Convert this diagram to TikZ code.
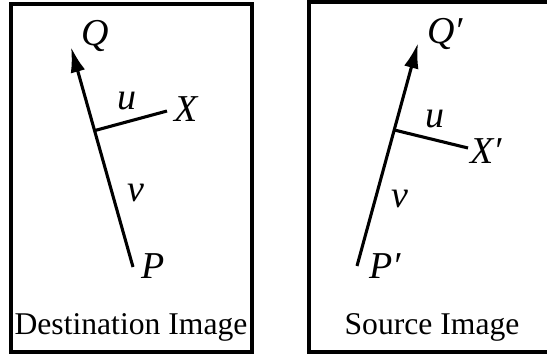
\documentclass[tikz,border=0pt]{standalone}
\usepackage{fontspec}
\setmainfont{Liberation Serif}
\newfontfamily\timesfont{Liberation Serif}
\usepackage{tikz}
\usetikzlibrary{arrows.meta, positioning, calc}

\begin{document}
\begin{tikzpicture}[
    x=0.025cm, y=-0.025cm,
    frame/.style={line width=2.2pt, line cap=rect},
    vec/.style={line width=2.2pt, -{Latex[length=18pt, width=10.5pt]}},
    offs/.style={line width=2.2pt},
    lbl/.style={font=\timesfont\fontsize{27}{29}\selectfont\itshape, inner sep=0pt},
    imgcaption/.style={font=\timesfont\fontsize{22.5}{24}\selectfont, inner sep=0pt},
  ]
  \useasboundingbox (0,0) rectangle (547,358);

  %% ── Frames ──
  \draw[frame] (11,4) rectangle (252,352);
  \draw[frame] (547,2) -- (309,2) -- (309,352) -- (547,352);

  %% ── Destination image ──
  \coordinate (P)  at (133,267);
  \coordinate (Q)  at (71,47);
  \coordinate (X)  at (167,111);
  \coordinate (J)  at ($(P)!0.62!(Q)$);

  \draw[vec]  (P) -- (Q);
  \draw[offs] (J) -- (X);

  \node[lbl] (Qlbl) at (95,36)  {Q};
  \node[lbl] (ulbl) at (127,101) {u};
  \node[lbl] (Xlbl) at (186,109) {X};
  \node[lbl] (vlbl) at (136,193) {v};
  \node[lbl] (Plbl) at (153,266) {P};
  \node[imgcaption] (dst) at (131,327) {Destination Image};

  %% ── Source image ──
  \coordinate (P2) at (357,266);
  \coordinate (Q2) at (418,43);
  \coordinate (X2) at (468,148);
  \coordinate (J2) at ($(P2)!0.61!(Q2)$);

  \draw[vec]  (P2) -- (Q2);
  \draw[offs] (J2) -- (X2);

  \node[lbl] (Q2lbl) at (445,34)  {Q′};
  \node[lbl] (u2lbl) at (435,119) {u};
  \node[lbl] (X2lbl) at (486,151) {X′};
  \node[lbl] (v2lbl) at (400,199) {v};
  \node[lbl] (P2lbl) at (385,266) {P′};
  \node[imgcaption] (src) at (432,327) {Source Image};

\end{tikzpicture}
\end{document}
